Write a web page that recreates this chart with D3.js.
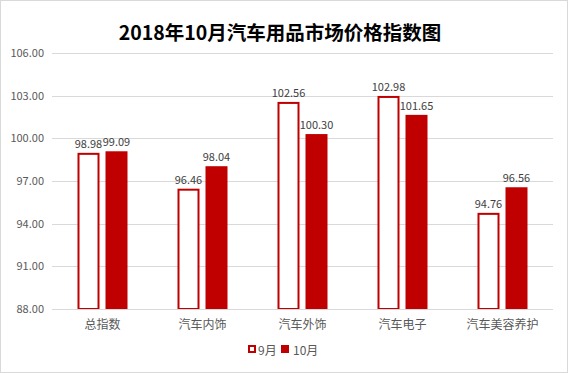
<!DOCTYPE html>
<html>
<head>
<meta charset="utf-8">
<script src="https://cdn.jsdelivr.net/npm/d3@7"></script>
<style>
body { margin: 0; background: #fff; }
text { font-family: "Noto Sans CJK SC", "Noto Sans", sans-serif; }
</style>
</head>
<body>
<script>
// data
var categories = ['总指数', '汽车内饰', '汽车外饰', '汽车电子', '汽车美容养护'];
var sep = [98.98, 96.46, 102.56, 102.98, 94.76];
var oct = [99.09, 98.04, 100.30, 101.65, 96.56];
var seriesNames = ['9月', '10月'];
var yTicks = [88, 91, 94, 97, 100, 103, 106];

var w = 568;
var h = 373;
var red = '#c00000';

var svg = d3.select('body')
	.append('svg')
	.attr('width', w)
	.attr('height', h);

// outer border
svg.append('rect')
	.attr('x', 0.5).attr('y', 0.5)
	.attr('width', w - 1).attr('height', h - 1)
	.attr('fill', '#fff')
	.attr('stroke', '#d9d9d9');

// title
svg.append('text')
	.text('2018年10月汽车用品市场价格指数图')
	.attr('x', 280)
	.attr('y', 40)
	.attr('text-anchor', 'middle')
	.attr('font-size', '19.5px')
	.attr('font-weight', 'bold')
	.attr('fill', '#000');

var x = d3.scaleBand()
	.domain(categories)
	.range([52.5, 552.5]);

var y = d3.scaleLinear()
	.domain([88, 106])
	.range([309, 53]);

// gridlines
svg.selectAll('line.grid')
	.data(yTicks)
	.enter()
	.append('line')
	.attr('class', 'grid')
	.attr('x1', 52)
	.attr('x2', 553)
	.attr('y1', function(d){ return Math.round(y(d)) + 0.5; })
	.attr('y2', function(d){ return Math.round(y(d)) + 0.5; })
	.attr('stroke', '#d9d9d9');

// y tick labels
svg.selectAll('text.ytick')
	.data(yTicks)
	.enter()
	.append('text')
	.attr('class', 'ytick')
	.text(function(d){ return d.toFixed(2); })
	.attr('x', 44)
	.attr('y', function(d){ return y(d) + 4; })
	.attr('text-anchor', 'end')
	.attr('font-size', '11px')
	.attr('fill', '#595959');

var barW = 22;
var gap = 6;

// 9月 bars (outlined)
svg.selectAll('rect.sep')
	.data(sep)
	.enter()
	.append('rect')
	.attr('class', 'sep')
	.attr('x', function(d, i){ return x(categories[i]) + x.bandwidth() / 2 - gap / 2 - barW + 1; })
	.attr('y', function(d){ return y(d) + 1; })
	.attr('width', barW - 2)
	.attr('height', function(d){ return y(88) - y(d) - 1; })
	.attr('fill', '#fff')
	.attr('stroke', red)
	.attr('stroke-width', 2);

// 10月 bars (filled)
svg.selectAll('rect.oct')
	.data(oct)
	.enter()
	.append('rect')
	.attr('class', 'oct')
	.attr('x', function(d, i){ return x(categories[i]) + x.bandwidth() / 2 + gap / 2; })
	.attr('y', function(d){ return y(d); })
	.attr('width', barW)
	.attr('height', function(d){ return y(88) - y(d); })
	.attr('fill', red);

// x axis line
svg.append('line')
	.attr('x1', 52).attr('x2', 553)
	.attr('y1', 309.5).attr('y2', 309.5)
	.attr('stroke', '#d9d9d9');

// data labels
svg.selectAll('text.lsep')
	.data(sep)
	.enter()
	.append('text')
	.attr('class', 'lsep')
	.text(function(d){ return d.toFixed(2); })
	.attr('x', function(d, i){ return x(categories[i]) + x.bandwidth() / 2 - gap / 2 - barW / 2; })
	.attr('y', function(d){ return y(d) - 5; })
	.attr('text-anchor', 'middle')
	.attr('font-size', '11px')
	.attr('fill', '#404040');

svg.selectAll('text.loct')
	.data(oct)
	.enter()
	.append('text')
	.attr('class', 'loct')
	.text(function(d){ return d.toFixed(2); })
	.attr('x', function(d, i){ return x(categories[i]) + x.bandwidth() / 2 + gap / 2 + barW / 2; })
	.attr('y', function(d){ return y(d) - 5; })
	.attr('text-anchor', 'middle')
	.attr('font-size', '11px')
	.attr('fill', '#404040');

// category labels
svg.selectAll('text.cat')
	.data(categories)
	.enter()
	.append('text')
	.attr('class', 'cat')
	.text(function(d){ return d; })
	.attr('x', function(d){ return x(d) + x.bandwidth() / 2; })
	.attr('y', 329)
	.attr('text-anchor', 'middle')
	.attr('font-size', '12px')
	.attr('fill', '#595959');

// legend
var legend = svg.append('g');
legend.append('rect')
	.attr('x', 249).attr('y', 346)
	.attr('width', 6).attr('height', 6)
	.attr('fill', '#fff')
	.attr('stroke', red)
	.attr('stroke-width', 2);
legend.append('text')
	.text(seriesNames[0])
	.attr('x', 258).attr('y', 355)
	.attr('font-size', '12px')
	.attr('fill', '#595959');
legend.append('rect')
	.attr('x', 281).attr('y', 345)
	.attr('width', 8).attr('height', 8)
	.attr('fill', red);
legend.append('text')
	.text(seriesNames[1])
	.attr('x', 293).attr('y', 355)
	.attr('font-size', '12px')
	.attr('fill', '#595959');
</script>
</body>
</html>
